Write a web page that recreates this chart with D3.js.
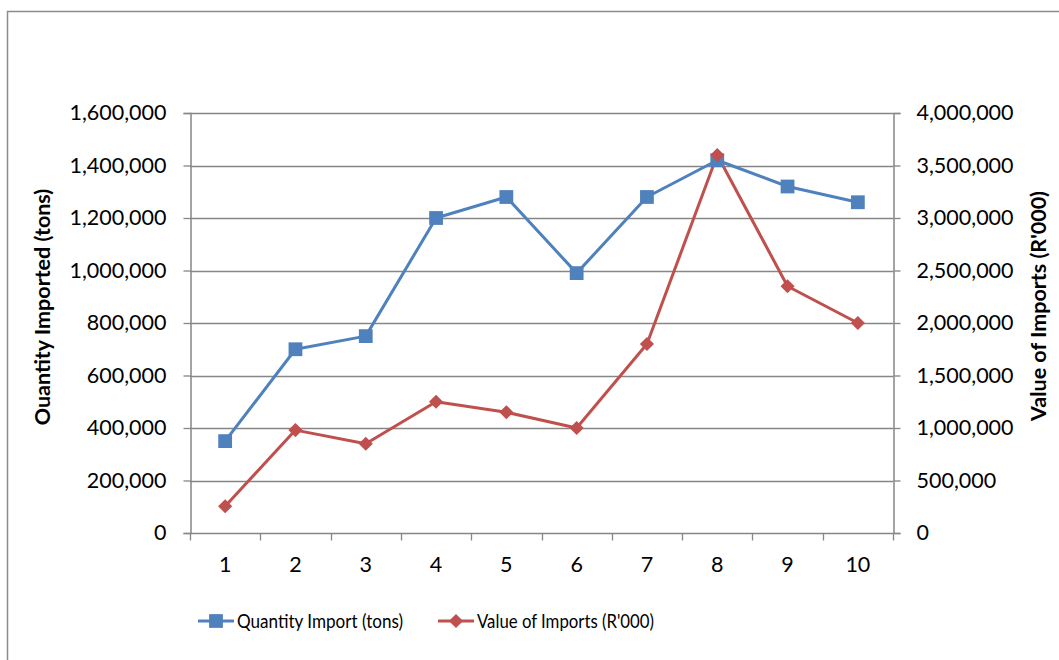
<!DOCTYPE html>
<html>
<head>
<meta charset="utf-8">
<script src="https://cdn.jsdelivr.net/npm/d3@7"></script>
<style>
  html, body { margin: 0; padding: 0; background: #fff; }
  svg { display: block; }
  text { font-family: Lato, "Open Sans", sans-serif; fill: #000; }
</style>
</head>
<body>
<svg id="chart" width="1059" height="660"></svg>
<script>
// Yearly import figures
const categories = ["1", "2", "3", "4", "5", "6", "7", "8", "9", "10"];
const quantityTons = [350000, 700000, 750000, 1200000, 1280000, 990000, 1280000, 1420000, 1320000, 1260000];
const valueR000 = [255000, 980000, 850000, 1250000, 1150000, 1000000, 1800000, 3600000, 2350000, 2000000];
const leftTicks = [0, 200000, 400000, 600000, 800000, 1000000, 1200000, 1400000, 1600000];
const rightTicks = [0, 500000, 1000000, 1500000, 2000000, 2500000, 3000000, 3500000, 4000000];
const seriesNames = ["Quantity Import (tons)", "Value of Imports (R'000)"];
const leftTitle = "Ouantity Imported (tons)";
const rightTitle = "Value of Imports (R'000)";

const blue = "#4F81BD", red = "#C0504D", grid = "#868686";
const svg = d3.select("#chart");

// chart frame
svg.append("rect").attr("x", 7.5).attr("y", 11.5).attr("width", 1070).attr("height", 700)
  .attr("fill", "none").attr("stroke", "#8c8c8c").attr("stroke-width", 1.5);

const plot = { left: 190, right: 893, top: 113, bottom: 533 };

const x = d3.scaleBand().domain(categories).range([plot.left, plot.right]);
const yL = d3.scaleLinear().domain([0, 1600000]).range([plot.bottom, plot.top]);
const yR = d3.scaleLinear().domain([0, 4000000]).range([plot.bottom, plot.top]);
const fmt = d3.format(",");

// horizontal gridlines
svg.append("g").selectAll("line").data(leftTicks.slice(1)).join("line")
  .attr("x1", plot.left).attr("x2", plot.right)
  .attr("y1", d => Math.round(yL(d)) + 0.5).attr("y2", d => Math.round(yL(d)) + 0.5)
  .attr("stroke", grid).attr("stroke-width", 1.3);

// left axis
const axL = svg.append("g").attr("transform", `translate(${plot.left + 0.5},0)`)
  .call(d3.axisLeft(yL).tickValues(leftTicks).tickFormat(fmt).tickSizeOuter(0).tickSize(7).tickPadding(17));
// right axis
const axR = svg.append("g").attr("transform", `translate(${plot.right + 0.5},0)`)
  .call(d3.axisRight(yR).tickValues(rightTicks).tickFormat(fmt).tickSizeOuter(0).tickSize(7).tickPadding(16));
// bottom axis with ticks at category boundaries
const axB = svg.append("g").attr("transform", `translate(0,${plot.bottom + 0.5})`)
  .call(d3.axisBottom(x).tickSize(0).tickPadding(23));
axB.selectAll(".tick line").remove();
const bounds = d3.range(categories.length + 1).map(i => plot.left + i * x.bandwidth());
axB.append("g").selectAll("line").data(bounds).join("line")
  .attr("x1", d => Math.round(d) + 0.5).attr("x2", d => Math.round(d) + 0.5)
  .attr("y1", 0).attr("y2", 7).attr("stroke", grid).attr("stroke-width", 1.3);

[axL, axR, axB].forEach(a => {
  a.select(".domain").attr("stroke", grid).attr("stroke-width", 1.5);
  a.selectAll(".tick line").attr("stroke", grid).attr("stroke-width", 1.3);
  a.selectAll("text").attr("font-size", 21.5).attr("fill", "#000")
    .style("font-family", "Lato, 'Open Sans', sans-serif");
});
axB.select(".domain").attr("d", `M${plot.left},0H${plot.right}`);

// axis titles
svg.append("text").attr("transform", `translate(50,307) rotate(-90)`)
  .attr("text-anchor", "middle").attr("font-size", 21.5).attr("font-weight", "bold")
  .text(leftTitle);
svg.append("text").attr("transform", `translate(1046,306) rotate(-90)`)
  .attr("text-anchor", "middle").attr("font-size", 21.5).attr("font-weight", "bold")
  .text(rightTitle);

const cx = d => x(d) + x.bandwidth() / 2;

// series lines
const lineQ = d3.line().x((d, i) => cx(categories[i])).y(d => yL(d));
const lineV = d3.line().x((d, i) => cx(categories[i])).y(d => yR(d));
svg.append("path").datum(quantityTons).attr("d", lineQ)
  .attr("fill", "none").attr("stroke", blue).attr("stroke-width", 3).attr("stroke-linejoin", "round");
svg.append("path").datum(valueR000).attr("d", lineV)
  .attr("fill", "none").attr("stroke", red).attr("stroke-width", 3).attr("stroke-linejoin", "round");

// markers: squares for quantity, diamonds for value
const sq = d3.symbol().type(d3.symbolSquare).size(190);
const dm = d3.symbol().type(d3.symbolSquare).size(100);
svg.append("g").selectAll("path").data(quantityTons).join("path")
  .attr("transform", (d, i) => `translate(${cx(categories[i])},${yL(d)})`)
  .attr("d", sq).attr("fill", blue);
svg.append("g").selectAll("path").data(valueR000).join("path")
  .attr("transform", (d, i) => `translate(${cx(categories[i])},${yR(d)}) rotate(45)`)
  .attr("d", dm).attr("fill", red);

// legend
const leg = svg.append("g");
const legItems = [
  { name: seriesNames[0], color: blue, x0: 198, shape: "square", len: 166 },
  { name: seriesNames[1], color: red, x0: 438, shape: "diamond", len: 177 }
];
legItems.forEach(it => {
  const y0 = 621;
  leg.append("line").attr("x1", it.x0).attr("x2", it.x0 + 36).attr("y1", y0).attr("y2", y0)
    .attr("stroke", it.color).attr("stroke-width", 3);
  leg.append("path").attr("transform", `translate(${it.x0 + 18},${y0})` + (it.shape === "diamond" ? " rotate(45)" : ""))
    .attr("d", it.shape === "diamond" ? dm : sq).attr("fill", it.color);
  leg.append("text").attr("x", it.x0 + 39).attr("y", y0).attr("dy", "0.36em")
    .attr("font-size", 18.5).attr("textLength", it.len).attr("lengthAdjust", "spacingAndGlyphs")
    .text(it.name);
});
</script>
</body>
</html>
